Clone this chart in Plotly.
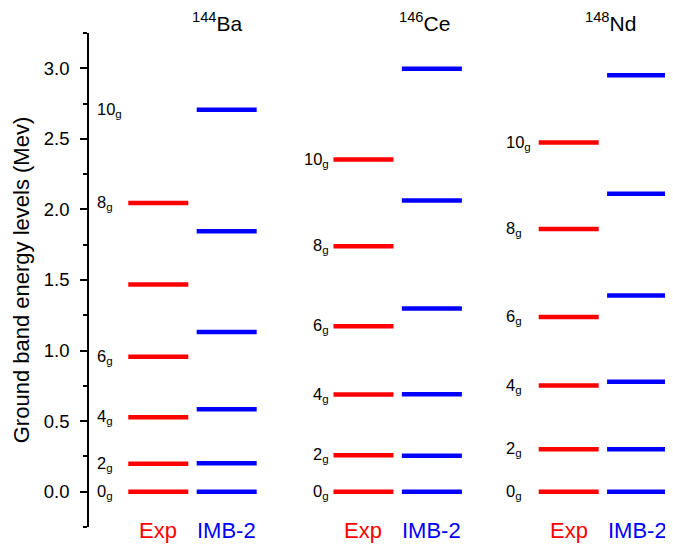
import plotly.graph_objects as go

nuclei = ["144", "146", "148"]
elements = ["Ba", "Ce", "Nd"]
models = ["Exp", "IMB-2"]
spin_labels = ["0", "2", "4", "6", "8", "10"]

exp_ba = [0.0, 0.199, 0.527, 0.957, 1.468, 2.045]
imb_ba = [0.0, 0.201, 0.584, 1.131, 1.846, 2.707]
exp_ce = [0.0, 0.258, 0.688, 1.172, 1.739, 2.353]
imb_ce = [0.0, 0.254, 0.691, 1.298, 2.064, 2.996]
exp_nd = [0.0, 0.301, 0.752, 1.238, 1.862, 2.474]
imb_nd = [0.0, 0.301, 0.779, 1.391, 2.111, 2.950]

# label positions (the Ba labels in the original do not follow Exp lines)
label_ba = [0.0, 0.199, 0.527, 0.957, 2.045, 2.707]
label_ce = exp_ce
label_nd = exp_nd

exp_sets = [exp_ba, exp_ce, exp_nd]
imb_sets = [imb_ba, imb_ce, imb_nd]
label_sets = [label_ba, label_ce, label_nd]

# layout constants (positions in x-axis units)
group_x = [0.0, 3.0, 6.0]
title_x = [0.364, 3.385, 6.116]
spin_x = [-1.425, 2.032, 4.554]
spin_anchor = ["left", "right", "left"]
half = 0.4386
RED = "#FF0000"
BLUE = "#0000FF"
FONT = "Arial, Liberation Sans, sans-serif"

fig = go.Figure()

def seg_trace(center, vals, color):
    xs, ys = [], []
    for v in vals:
        xs += [center - half, center + half, None]
        ys += [v, v, None]
    return go.Scatter(x=xs, y=ys, mode="lines", line=dict(color=color, width=4.5),
                      hoverinfo="skip", showlegend=False)

annotations = []
for gi, gx in enumerate(group_x):
    fig.add_trace(seg_trace(gx - 0.5, exp_sets[gi], RED))
    fig.add_trace(seg_trace(gx + 0.5, imb_sets[gi], BLUE))
    annotations.append(dict(x=gx - 0.5, y=-0.0061, xref="x", yref="paper", text=models[0],
                            showarrow=False, yanchor="middle",
                            font=dict(family=FONT, size=22, color=RED)))
    annotations.append(dict(x=gx + 0.5, y=-0.0061, xref="x", yref="paper", text=models[1],
                            showarrow=False, yanchor="middle",
                            font=dict(family=FONT, size=22, color=BLUE)))
    annotations.append(dict(x=title_x[gi], y=1.022, xref="x", yref="paper",
                            text="<sup>" + nuclei[gi] + "</sup>" + elements[gi],
                            showarrow=False, yanchor="middle",
                            font=dict(family=FONT, size=21, color="black")))
    for lbl, yv in zip(spin_labels, label_sets[gi]):
        annotations.append(dict(x=spin_x[gi], y=yv, xref="x", yref="y",
                                text=lbl + "<sub>g</sub>", showarrow=False,
                                xanchor=spin_anchor[gi], yanchor="middle", yshift=0,
                                font=dict(family=FONT, size=16.5, color="black")))

fig.update_layout(
    width=665, height=538,
    margin=dict(l=81, r=3, t=25, b=19),
    plot_bgcolor="white", paper_bgcolor="white",
    annotations=annotations,
    xaxis=dict(range=[-1.513, 6.981], visible=False, fixedrange=True),
    yaxis=dict(range=[-0.25, 3.25], tickmode="linear", tick0=0, dtick=0.5,
               tickformat=".1f", ticks="outside", ticklen=7, tickwidth=1.5,
               tickcolor="black", showline=True, linecolor="black", linewidth=1.5,
               showgrid=False, zeroline=False, ticklabelstandoff=7,
               minor=dict(dtick=0.25, ticks="outside", ticklen=4, tickwidth=1.5,
                          tickcolor="black", showgrid=False),
               tickfont=dict(family=FONT, size=18.5, color="black"),
               title=dict(text="Ground band energy levels (Mev)",
                          font=dict(family=FONT, size=22, color="black"),
                          standoff=8)),
)

fig.write_html("out.html")
